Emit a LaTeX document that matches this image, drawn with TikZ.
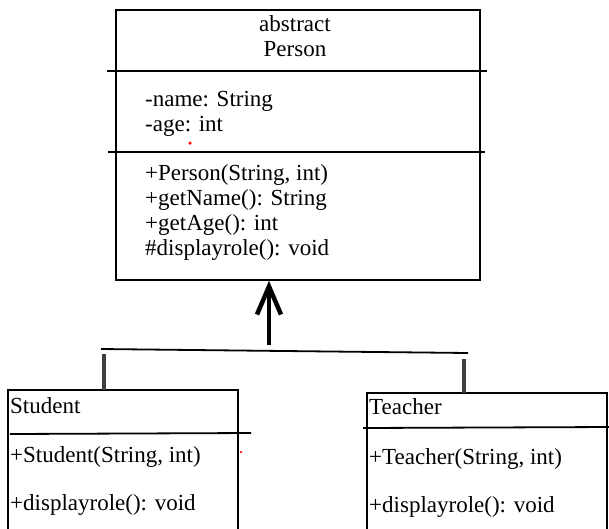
\documentclass[tikz,border=0pt]{standalone}
\usepackage{fontspec}
\setmainfont{Liberation Serif}
\usetikzlibrary{arrows.meta}
\begin{document}
\begin{tikzpicture}[x=1pt,y=-1pt,
  txt/.style={anchor=base west,inner sep=0pt,font=\fontsize{23}{25}\selectfont},
  ctxt/.style={anchor=base,inner sep=0pt,font=\fontsize{23}{25}\selectfont},
  border/.style={line width=1.8pt,black},
  divider/.style={line width=1.8pt,black},
  tick/.style={line width=3.6pt,black!75},
  reddot/.style={fill=red,draw=none,circle,inner sep=0pt,minimum size=3.5pt}]
\useasboundingbox (0,0) rectangle (609,528);
% Person class
\node[draw,border,minimum width=364pt,minimum height=270pt,anchor=north west,inner sep=0pt] (person) at (115,9) {};
\draw[divider] (107,71) -- (487,71);
\draw[divider] (108,152) -- (485,152);
\node[ctxt] (pabs) at (295,31) {abstract};
\node[ctxt] (pname) at (295,56) {Person};
\node[txt] (a1) at (145,106) {-name: String};
\node[txt] (a2) at (145,131) {-age: int};
\node[reddot] (dot1) at (190,143) {};
\node[txt] (m1) at (145,180) {+Person(String, int)};
\node[txt] (m2) at (145,205) {+getName(): String};
\node[txt] (m3) at (145,230) {+getAge(): int};
\node[txt] (m4) at (145,255) {\#displayrole(): void};
% Student class
\coordinate (stl) at (8,390);
\draw[border] (8,540) -- (stl) -- (238,390) -- (238,540);
\draw[divider] (10,434) -- (251,433);
\node[txt] (sname) at (10,413) {Student};
\node[txt] (s1) at (10,462) {+Student(String, int)};
\node[txt] (s2) at (10,510) {+displayrole(): void};
\node[reddot,minimum size=2.5pt] (dot2) at (241,452) {};
% Teacher class
\coordinate (ttl) at (367,393);
\draw[border] (367,540) -- (ttl) -- (607,393) -- (607,540);
\draw[divider] (363,428) -- (609,427);
\node[txt] (tname) at (369,414) {Teacher};
\node[txt] (t1) at (369,464) {+Teacher(String, int)};
\node[txt] (t2) at (369,512) {+displayrole(): void};
% Inheritance connectors
\coordinate (barL) at (101,349);
\coordinate (barR) at (468,353);
\draw[line width=1.8pt] (barL) -- (barR);
\coordinate (arrowbase) at (269,345);
\draw[line width=4.5pt,-{Straight Barb[length=28pt,width=24pt]}] (arrowbase) -- (arrowbase |- person.south);
\coordinate (stick) at (104,354);
\draw[tick] (stick) -- (stick |- stl);
\coordinate (ttick) at (464,359);
\draw[tick] (ttick) -- (ttick |- ttl);
\end{tikzpicture}
\end{document}
